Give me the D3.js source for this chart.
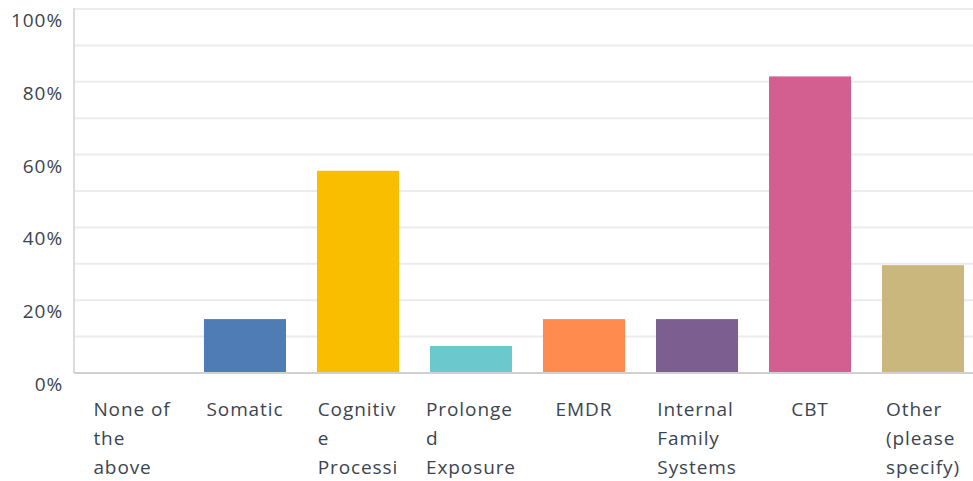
<!DOCTYPE html>
<html>
<head>
<meta charset="utf-8">
<script src="https://cdn.jsdelivr.net/npm/d3@7"></script>
<style>
  body { margin: 0; background: #fff; }
  svg text { font-family: "Open Sans", "Noto Sans", sans-serif; fill: #3b4550; letter-spacing: 0.9px; }
</style>
</head>
<body>
<svg id="chart"></svg>
<script>
// answer choices, as shown under each bar (wrapped the way the source wraps them)
const categories = ['None of the above', 'Somatic', 'Cognitive Processing', 'Prolonged Exposure',
  'EMDR', 'Internal Family Systems', 'CBT', 'Other (please specify)'];
const tickLines = [
  ['None of', 'the', 'above'],
  ['Somatic'],
  ['Cognitiv', 'e', 'Processi'],
  ['Prolonge', 'd', 'Exposure'],
  ['EMDR'],
  ['Internal', 'Family', 'Systems'],
  ['CBT'],
  ['Other', '(please', 'specify)']
];
const percents = [0, 14.81, 55.56, 7.41, 14.81, 14.81, 81.48, 29.63];
const colors = ['#507cb6', '#507cb6', '#f9be00', '#6bc8cd', '#ff8b4f', '#7d5e90', '#d25f90', '#c9b77d'];
const yTicks = [0, 20, 40, 60, 80, 100];
const gridTicks = [10, 20, 30, 40, 50, 60, 70, 80, 90, 100];

const width = 973, height = 481;
const margin = { top: 9, left: 74, bottom: 108 };

const svg = d3.select('#chart')
  .attr('width', width)
  .attr('height', height);

const x = d3.scaleBand()
  .domain(categories)
  .range([margin.left, margin.left + 907])
  .paddingInner(0.274)
  .paddingOuter(0.15);

const y = d3.scaleLinear()
  .domain([0, 100])
  .range([height - margin.bottom, margin.top]);

// horizontal grid lines
svg.append('g')
  .selectAll('line')
  .data(gridTicks)
  .join('line')
  .attr('x1', margin.left)
  .attr('x2', width)
  .attr('y1', d => y(d))
  .attr('y2', d => y(d))
  .attr('stroke', '#ececec')
  .attr('stroke-width', 2);

// left axis line
svg.append('line')
  .attr('x1', margin.left).attr('x2', margin.left)
  .attr('y1', y(100) - 1).attr('y2', y(0))
  .attr('stroke', '#dcdcdc')
  .attr('stroke-width', 2);

// y labels (sit a little below their grid line, like the source)
svg.append('g')
  .selectAll('text')
  .data(yTicks)
  .join('text')
  .attr('x', 63)
  .attr('y', d => y(d) + 18)
  .attr('text-anchor', 'end')
  .style('font-size', '19px')
  .text(d => d + '%');

// bars
svg.append('g')
  .selectAll('rect')
  .data(categories)
  .join('rect')
  .attr('x', d => x(d))
  .attr('width', x.bandwidth())
  .attr('y', (d, i) => y(percents[i]))
  .attr('height', (d, i) => y(0) - y(percents[i]))
  .attr('fill', (d, i) => colors[i]);

// baseline
svg.append('line')
  .attr('x1', margin.left).attr('x2', width)
  .attr('y1', y(0)).attr('y2', y(0))
  .attr('stroke', '#d0d0d0')
  .attr('stroke-width', 2);

// category labels: left-aligned lines, block centred under the bar
const labels = svg.append('g')
  .selectAll('text')
  .data(categories)
  .join('text')
  .attr('y', 416)
  .style('font-size', '19px');

labels.selectAll('tspan')
  .data((d, i) => tickLines[i])
  .join('tspan')
  .attr('dy', (d, j) => j === 0 ? 0 : 29)
  .text(d => d);

labels.each(function(d) {
  const spans = d3.select(this).selectAll('tspan');
  let maxW = 0;
  spans.each(function() { maxW = Math.max(maxW, this.getComputedTextLength()); });
  const left = x(d) + x.bandwidth() / 2 - maxW / 2;
  spans.attr('x', left);
});
</script>
</body>
</html>
